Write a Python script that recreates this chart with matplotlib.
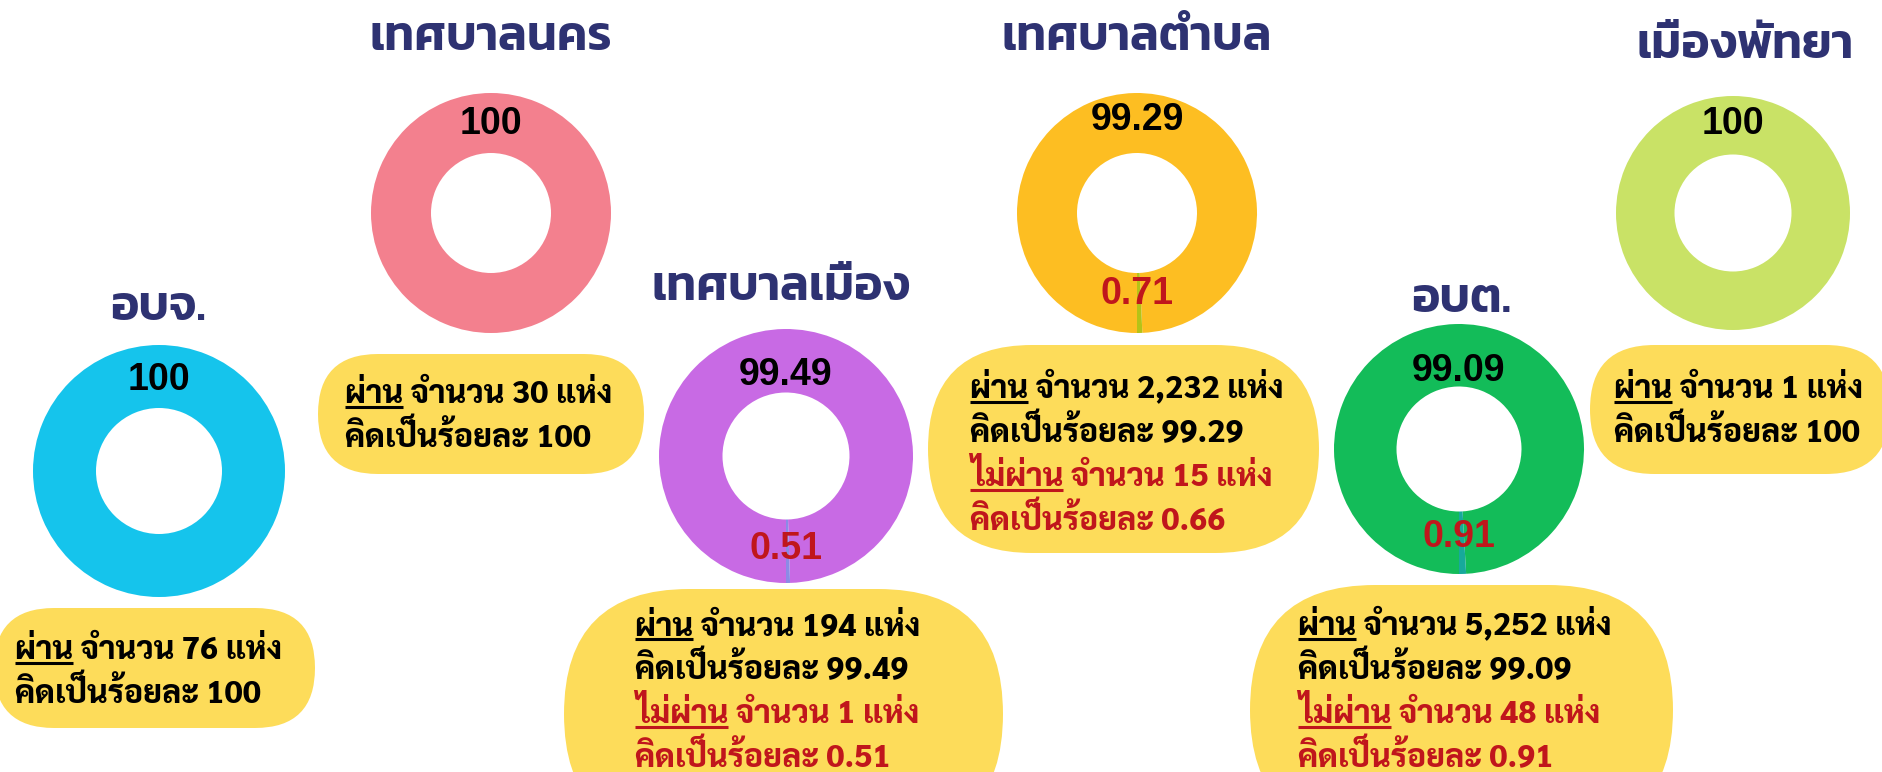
import matplotlib
matplotlib.use('Agg')
import matplotlib.pyplot as plt
from matplotlib.patches import FancyBboxPatch

# data
groups = ['อบจ.', 'เทศบาลนคร', 'เทศบาลเมือง', 'เทศบาลตำบล', 'อบต.', 'เมืองพัทยา']
pass_pct = [100, 100, 99.49, 99.29, 99.09, 100]
fail_pct = [0, 0, 0.51, 0.71, 0.91, 0]
pass_count = ['76', '30', '194', '2,232', '5,252', '1']
pass_text_pct = ['100', '100', '99.49', '99.29', '99.09', '100']
fail_count = [None, None, '1', '15', '48', None]
fail_text_pct = [None, None, '0.51', '0.66', '0.91', None]

ring_colors = ['#15C4EC', '#F3808E', '#C86AE4', '#FDBE22', '#13BC59', '#C9E266']
sliver_colors = ['#15C4EC', '#F3808E', '#8B8BE6', '#B5C317', '#17A99B', '#C9E266']

# layout (pixels, y from top)
donut_xy = [(159, 471), (491, 213), (786, 456), (1137, 213), (1459, 449), (1733, 213)]
donut_r = [126, 120, 127, 120, 125, 117]
top_lab_off = [91, 89, 81, 93, 78, 89]
bot_lab_off = [0, 0, 93, 81, 88, 0]
title_xy = [(158, 309), (491, 38), (781, 288), (1137, 38), (1461, 300), (1745, 46)]
bubble_box = [(-6, 608, 321, 120), (318, 354, 326, 120), (564, 589, 439, 250),
              (928, 345, 391, 208), (1250, 585, 423, 250), (1590, 345, 300, 129)]
text_left = [15, 345, 635, 970, 1298, 1614]
text_base = [659, 403, 635, 398, 635, 398]
line_gap = 44

W, H = 1882, 772
NAVY = '#2E3272'
RED = '#C0161C'
YELLOW = '#FDDC5A'
TITLE_FONT = ['Kanit', 'DejaVu Sans']
BODY_FONT = ['Sarabun', 'DejaVu Sans']
NUM_FONT = ['Liberation Sans', 'DejaVu Sans']

fig = plt.figure(figsize=(W / 100, H / 100), dpi=100)
ax = fig.add_axes([0, 0, 1, 1])
renderer = fig.canvas.get_renderer()

def Y(y):
    return H - y

def fit_size(s, target_w, base=20, **kw):
    t = fig.text(0, 0, s, fontsize=base, **kw)
    w = t.get_window_extent(renderer).width
    t.remove()
    return base * target_w / w

title_size = fit_size('เทศบาลนคร', 242, weight=600, family=TITLE_FONT)
body_size = fit_size('ผ่าน จำนวน 76 แห่ง', 267, weight=800, family=BODY_FONT)

for i, g in enumerate(groups):
    cx, cy = donut_xy[i]
    R = donut_r[i]
    vals = [pass_pct[i], fail_pct[i]] if fail_pct[i] else [pass_pct[i]]
    cols = [ring_colors[i], sliver_colors[i]][:len(vals)]
    ax.pie(vals, colors=cols, radius=R, center=(cx, Y(cy)), startangle=270,
           counterclock=False, wedgeprops=dict(width=R * 0.5, linewidth=0),
           frame=True)
    ax.text(cx, Y(cy) + top_lab_off[i], '%g' % pass_pct[i], ha='center', va='center',
            fontsize=27, fontweight='bold', family=NUM_FONT)
    if fail_pct[i]:
        ax.text(cx, Y(cy) - bot_lab_off[i], '%g' % fail_pct[i], ha='center', va='center',
                fontsize=27, fontweight='bold', family=NUM_FONT, color=RED)
    tx, ty = title_xy[i]
    ax.text(tx, Y(ty), g, ha='center', va='center', fontsize=title_size, fontweight=600,
            color=NAVY, family=TITLE_FONT)
    bx, by, bw, bh = bubble_box[i]
    ax.add_patch(FancyBboxPatch((bx, Y(by + bh)), bw, bh,
                                boxstyle='round,pad=0,rounding_size=%g' % (bh / 2),
                                fc=YELLOW, ec='none', zorder=1))

ax.set_xlim(0, W)
ax.set_ylim(0, H)
ax.set_aspect('equal')
ax.axis('off')

body_kw = dict(fontsize=body_size, fontweight=800, family=BODY_FONT, va='baseline',
               ha='left', zorder=3)

def underlined_line(x, y, word, rest, color):
    ax.text(x, Y(y), word + ' ' + rest, color=color, **body_kw)
    probe = ax.text(x, Y(y), word, alpha=0, **body_kw)
    bb = probe.get_window_extent(renderer)
    ax.plot([bb.x0, bb.x1], [Y(y) - 4, Y(y) - 4], color=color, lw=2.2, zorder=3,
            solid_capstyle='butt')

for i in range(len(groups)):
    x = text_left[i]
    y = text_base[i]
    underlined_line(x, y, 'ผ่าน', 'จำนวน %s แห่ง' % pass_count[i], 'black')
    ax.text(x, Y(y + line_gap), 'คิดเป็นร้อยละ %s' % pass_text_pct[i], color='black', **body_kw)
    if fail_count[i]:
        underlined_line(x, y + 2 * line_gap, 'ไม่ผ่าน', 'จำนวน %s แห่ง' % fail_count[i], RED)
        ax.text(x, Y(y + 3 * line_gap), 'คิดเป็นร้อยละ %s' % fail_text_pct[i], color=RED, **body_kw)

fig.savefig('out.png', dpi=100)
